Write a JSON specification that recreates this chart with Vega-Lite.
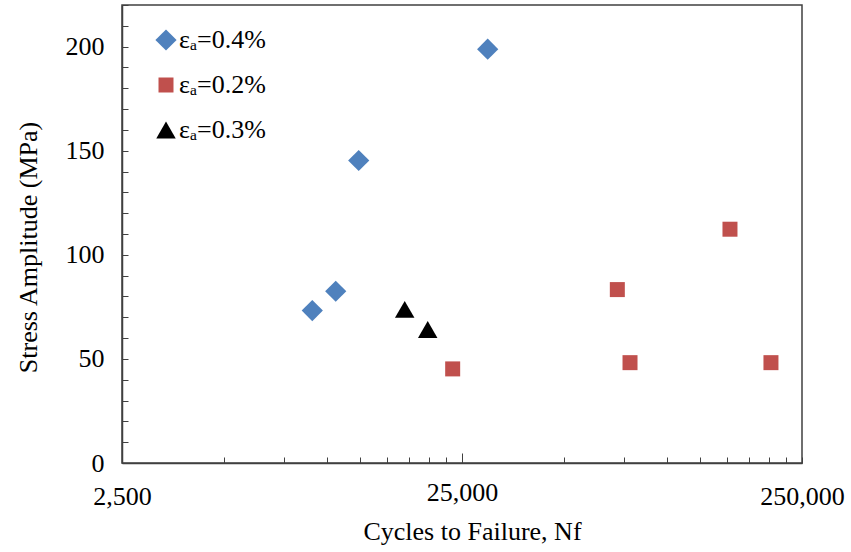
{
  "$schema": "https://vega.github.io/schema/vega-lite/v6.json",
  "width": 680,
  "height": 458,
  "autosize": {"type": "none"},
  "padding": {"left": 122, "top": 5, "right": 49, "bottom": 89},
  "background": "white",
  "config": {
    "view": {"stroke": "#404040", "strokeWidth": 1.5},
    "font": "Liberation Serif"
  },
  "data": {
    "values": [
      {"series": "εₐ=0.4%", "cycles": 9070, "stress": 73.2},
      {"series": "εₐ=0.4%", "cycles": 10630, "stress": 82.5},
      {"series": "εₐ=0.4%", "cycles": 12420, "stress": 145.3},
      {"series": "εₐ=0.4%", "cycles": 29750, "stress": 198.8},
      {"series": "εₐ=0.2%", "cycles": 23470, "stress": 45.2},
      {"series": "εₐ=0.2%", "cycles": 71580, "stress": 83.3},
      {"series": "εₐ=0.2%", "cycles": 78000, "stress": 48.2},
      {"series": "εₐ=0.2%", "cycles": 153500, "stress": 112.3},
      {"series": "εₐ=0.2%", "cycles": 202600, "stress": 48.2},
      {"series": "εₐ=0.3%", "cycles": 16960, "stress": 73.8},
      {"series": "εₐ=0.3%", "cycles": 19820, "stress": 64.1}
    ]
  },
  "mark": {"type": "point", "filled": true, "opacity": 1, "strokeWidth": 0},
  "encoding": {
    "x": {
      "field": "cycles",
      "type": "quantitative",
      "scale": {"type": "log", "domain": [2500, 250000], "nice": false},
      "axis": {
        "title": "Cycles to Failure, Nf",
        "values": [2500, 5000, 7500, 10000, 12500, 15000, 17500, 20000, 22500, 25000, 50000, 75000, 100000, 125000, 150000, 175000, 200000, 225000, 250000],
        "labelExpr": "(datum.value == 2500 || datum.value == 25000 || datum.value == 250000) ? format(datum.value, ',') : ''",
        "grid": false,
        "tickSize": {"condition": {"test": "datum.value == 25000", "value": -10}, "value": -6},
        "tickColor": "#404040",
        "domainColor": "#404040",
        "domainWidth": 1.5,
        "labelFontSize": 26,
        "labelColor": "black",
        "labelPadding": 26,
        "labelOverlap": false,
        "labelFlush": false,
        "titleFontSize": 26,
        "titleFontWeight": "normal",
        "titleColor": "black",
        "titlePadding": 9,
        "titleX": 350
      }
    },
    "y": {
      "field": "stress",
      "type": "quantitative",
      "scale": {"domain": [0, 220], "nice": false},
      "axis": {
        "title": "Stress Amplitude (MPa)",
        "values": [0, 10, 20, 30, 40, 50, 60, 70, 80, 90, 100, 110, 120, 130, 140, 150, 160, 170, 180, 190, 200, 210, 220],
        "labelExpr": "datum.value % 50 == 0 ? datum.label : ''",
        "grid": false,
        "tickSize": -6,
        "tickColor": "#404040",
        "domainColor": "#404040",
        "domainWidth": 1.5,
        "labelFontSize": 26,
        "labelColor": "black",
        "labelPadding": 24,
        "labelOverlap": false,
        "titleFontSize": 26,
        "titleFontWeight": "normal",
        "titleColor": "black",
        "titlePadding": 24,
        "titleY": 242
      }
    },
    "color": {
      "field": "series",
      "type": "nominal",
      "scale": {"domain": ["εₐ=0.4%", "εₐ=0.2%", "εₐ=0.3%"], "range": ["#4F81BD", "#C0504D", "#000000"]},
      "legend": {
        "title": null,
        "orient": "none",
        "legendX": 31,
        "legendY": 22,
        "padding": 0,
        "labelFontSize": 26,
        "labelFont": "Liberation Serif",
        "labelColor": "black",
        "labelOffset": 0,
        "rowPadding": 19,
        "symbolStrokeWidth": 0
      }
    },
    "shape": {
      "field": "series",
      "type": "nominal",
      "scale": {"domain": ["εₐ=0.4%", "εₐ=0.2%", "εₐ=0.3%"], "range": ["diamond", "square", "triangle-up"]}
    },
    "size": {
      "field": "series",
      "type": "nominal",
      "scale": {"type": "ordinal", "domain": ["εₐ=0.4%", "εₐ=0.2%", "εₐ=0.3%"], "range": [450, 225, 380]}
    }
  }
}
